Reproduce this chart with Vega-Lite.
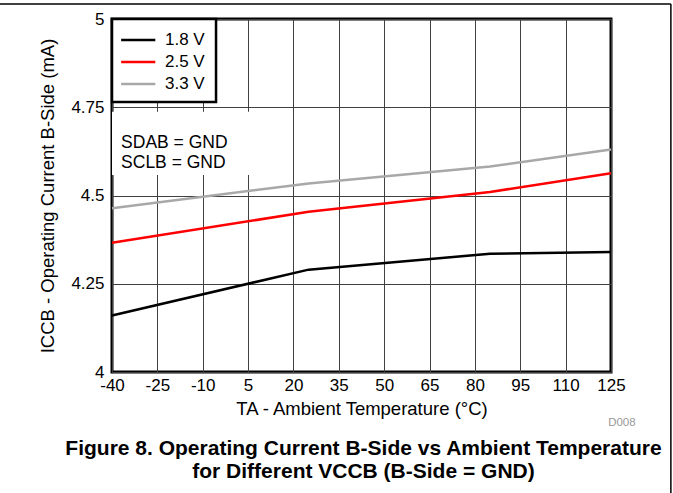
{
  "$schema": "https://vega.github.io/schema/vega-lite/v6.json",
  "width": 499,
  "height": 353,
  "autosize": "none",
  "padding": {"left": 112, "top": 19, "right": 62, "bottom": 121},
  "background": "white",
  "title": {
    "text": ["Figure 8. Operating Current B-Side vs Ambient Temperature", "for Different VCCB (B-Side = GND)"],
    "orient": "bottom",
    "anchor": "middle",
    "frame": "group",
    "dx": 2,
    "fontSize": 21,
    "fontWeight": "bold",
    "lineHeight": 23,
    "offset": -56,
    "color": "black"
  },
  "layer": [
    {
      "data": {"values": [{}]},
      "mark": {"type": "rect", "fill": "white"},
      "encoding": {
        "x": {"datum": -40, "type": "quantitative"},
        "x2": {"datum": 12},
        "y": {"datum": 4.558, "type": "quantitative"},
        "y2": {"datum": 4.737}
      }
    },
    {
      "data": {"values": [{}]},
      "mark": {"type": "rect", "fill": "white", "stroke": "black", "strokeWidth": 2.5},
      "encoding": {
        "x": {"datum": -40, "type": "quantitative"},
        "x2": {"datum": -5.6},
        "y": {"datum": 4.765, "type": "quantitative"},
        "y2": {"datum": 5}
      }
    },
    {
      "data": {"values": [{}]},
      "mark": {
        "type": "text",
        "text": ["SDAB = GND", "SCLB = GND"],
        "align": "left",
        "baseline": "middle",
        "fontSize": 17.5,
        "lineHeight": 20,
        "fill": "black"
      },
      "encoding": {
        "x": {"datum": -37, "type": "quantitative"},
        "y": {"datum": 4.649, "type": "quantitative"}
      }
    },
    {
      "data": {
        "values": [
          {"temp": -40, "icc": 4.16, "vcc": "1.8 V"},
          {"temp": 25, "icc": 4.29, "vcc": "1.8 V"},
          {"temp": 85, "icc": 4.335, "vcc": "1.8 V"},
          {"temp": 125, "icc": 4.34, "vcc": "1.8 V"},
          {"temp": -40, "icc": 4.366, "vcc": "2.5 V"},
          {"temp": 25, "icc": 4.454, "vcc": "2.5 V"},
          {"temp": 85, "icc": 4.51, "vcc": "2.5 V"},
          {"temp": 125, "icc": 4.563, "vcc": "2.5 V"},
          {"temp": -40, "icc": 4.464, "vcc": "3.3 V"},
          {"temp": 25, "icc": 4.534, "vcc": "3.3 V"},
          {"temp": 85, "icc": 4.582, "vcc": "3.3 V"},
          {"temp": 125, "icc": 4.63, "vcc": "3.3 V"}
        ]
      },
      "mark": {"type": "line", "strokeWidth": 2.5},
      "encoding": {
        "x": {
          "field": "temp",
          "type": "quantitative",
          "scale": {"domain": [-40, 125], "nice": false, "zero": false},
          "axis": {
            "values": [-40, -25, -10, 5, 20, 35, 50, 65, 80, 95, 110, 125],
            "labelExpr": "'' + datum.value",
            "title": "TA - Ambient Temperature (°C)",
            "labelPadding": 5,
            "titlePadding": 6
          }
        },
        "y": {
          "field": "icc",
          "type": "quantitative",
          "scale": {"domain": [4, 5], "nice": false, "zero": false},
          "axis": {
            "values": [4, 4.25, 4.5, 4.75, 5],
            "labelExpr": "'' + datum.value",
            "title": "ICCB - Operating Current B-Side (mA)",
            "labelPadding": 8,
            "titlePadding": 13
          }
        },
        "color": {
          "field": "vcc",
          "type": "nominal",
          "scale": {"domain": ["1.8 V", "2.5 V", "3.3 V"], "range": ["#000000", "#ff0000", "#a8a8a8"]},
          "legend": {
            "title": null,
            "orient": "top-left",
            "offset": 10,
            "padding": 0,
            "symbolType": "M-1.25,0H2.35",
            "symbolSize": 361,
            "symbolStrokeWidth": 2.5,
            "labelFontSize": 17,
            "labelOffset": 21,
            "labelColor": "black",
            "rowPadding": 3
          }
        }
      }
    },
    {
      "data": {"values": [{}]},
      "mark": {"type": "rule", "color": "black", "strokeWidth": 1.5},
      "encoding": {
        "x": {"datum": -77.04, "type": "quantitative"},
        "x2": {"datum": 144.8},
        "y": {"datum": 5.0425, "type": "quantitative"}
      }
    },
    {
      "data": {"values": [{}]},
      "mark": {"type": "rule", "color": "black", "strokeWidth": 1.5},
      "encoding": {
        "x": {"datum": 144.8, "type": "quantitative"},
        "y": {"datum": 5.0425, "type": "quantitative"},
        "y2": {"datum": 3.657}
      }
    },
    {
      "data": {"values": [{}]},
      "mark": {"type": "text", "text": "D008", "fontSize": 11.5, "fill": "#999999", "align": "center", "baseline": "middle"},
      "encoding": {
        "x": {"datum": 128.6, "type": "quantitative"},
        "y": {"datum": 3.856, "type": "quantitative"}
      }
    }
  ],
  "config": {
    "font": "Liberation Sans",
    "view": {"stroke": "black", "strokeWidth": 3},
    "axis": {
      "domain": false,
      "ticks": false,
      "grid": true,
      "gridColor": "#404040",
      "gridWidth": 1,
      "gridOpacity": 1,
      "labelFlush": false,
      "labelFontSize": 17,
      "labelColor": "black",
      "titleFontSize": 18.5,
      "titleFontWeight": "normal",
      "titleColor": "black"
    }
  }
}
